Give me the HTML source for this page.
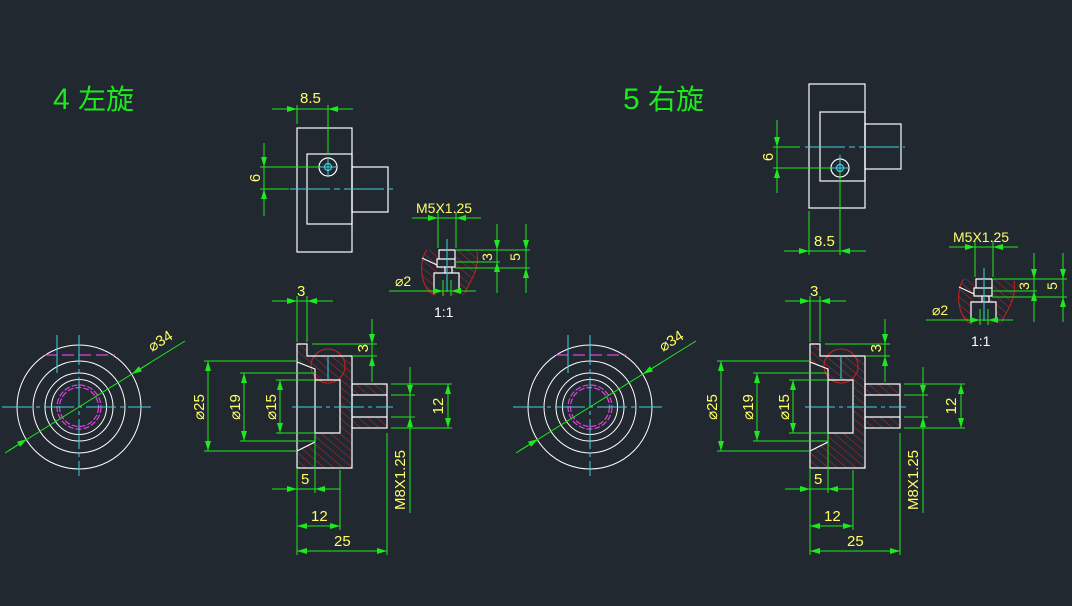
<!DOCTYPE html>
<html><head><meta charset="utf-8"><style>
html,body{margin:0;padding:0;background:#212830;}
svg{display:block}
text{font-family:"Liberation Sans","Noto Sans CJK SC",sans-serif;}
</style></head><body>
<svg width="1072" height="606" viewBox="0 0 1072 606" xmlns="http://www.w3.org/2000/svg">
<defs>
<marker id="a" markerUnits="userSpaceOnUse" markerWidth="10" markerHeight="6" refX="10" refY="3" orient="auto"><path d="M0,0L10,3L0,6z" fill="#1ee81e"/></marker>
<pattern id="h" patternUnits="userSpaceOnUse" width="6" height="6" patternTransform="rotate(-50)"><line x1="0" y1="0" x2="0" y2="6" stroke="#c02828" stroke-width="1"/></pattern>

<g id="circ">
 <g fill="none" stroke="#fff" stroke-width="1">
  <circle cx="79" cy="407" r="62"/><circle cx="79" cy="407" r="46"/><circle cx="79" cy="407" r="34"/><circle cx="79" cy="407" r="27.5"/>
 </g>
 <g fill="none" stroke="#e040e0" stroke-width="1.2" stroke-dasharray="6,2">
  <circle cx="79" cy="407" r="22"/><circle cx="79" cy="407" r="19.5"/>
 </g>
 <line x1="45" y1="355" x2="115" y2="355" stroke="#e040e0" stroke-width="1.2" stroke-dasharray="12,5"/>
 <g stroke="#3fd0e0" stroke-width="1" stroke-dasharray="30,4,4,4">
  <line x1="2" y1="407" x2="151" y2="407"/><line x1="79" y1="335" x2="79" y2="476"/>
 </g>
 <line x1="57" y1="335" x2="57" y2="373" stroke="#3fd0e0"/>
 <line x1="5" y1="453" x2="185" y2="341" stroke="#1ee81e"/>
 <line x1="8" y1="451" x2="27" y2="439" stroke="#1ee81e" marker-end="url(#a)"/>
 <line x1="150" y1="363" x2="132" y2="374" stroke="#1ee81e" marker-end="url(#a)"/>
 <text x="0" y="0" transform="translate(152,352) rotate(-32)" fill="#ffff66" font-size="15">⌀34</text>
</g>

<g id="sec">
 <path fill-rule="evenodd" fill="url(#h)" d="M297,344H307V356H352V468H297Z M297,362L315,369V380H340V433H315V442L297,451Z"/>
 <rect x="352" y="384" width="35" height="11" fill="url(#h)"/>
 <rect x="352" y="417" width="35" height="11" fill="url(#h)"/>
 <circle cx="328" cy="366" r="17" fill="none" stroke="#d02020"/>
 <g fill="none" stroke="#fff" stroke-width="1.2">
  <path d="M297,344H307V356H352V468H297Z"/>
  <path d="M297,362L315,369V442L297,451"/>
  <path d="M315,380H340V433H315"/>
  <rect x="352" y="384" width="35" height="44"/>
  <path d="M352,395H387M352,417H387"/>
 </g>
 <line x1="292" y1="407" x2="393" y2="407" stroke="#3fd0e0" stroke-dasharray="30,4,4,4"/>
 <line x1="328" y1="355" x2="328" y2="380" stroke="#3fd0e0"/>
 <g stroke="#1ee81e" fill="none" stroke-width="1">
  <path d="M272,301H333M297,296V342M307,296V342"/>
  <path d="M372,319V382M312,344H377M352,356H377"/>
  <path d="M208,361V451M204,361H297M204,451H297"/>
  <path d="M244,373V441M240,373H315M240,441H315"/>
  <path d="M280,380V433M276,380H315M276,433H315"/>
  <path d="M448,384V428M391,384H452M391,428H452"/>
  <path d="M410,367V513M391,395H415M391,417H415"/>
  <path d="M272,489H340M297,468V555M315,433V493M340,470V530"/>
  <path d="M297,526H340M297,551H387M387,433V555"/>
 </g>
 <g stroke="#1ee81e" marker-end="url(#a)">
  <line x1="282" y1="301" x2="297" y2="301"/><line x1="322" y1="301" x2="307" y2="301"/>
  <line x1="372" y1="325" x2="372" y2="344"/><line x1="372" y1="375" x2="372" y2="356"/>
  <line x1="208" y1="380" x2="208" y2="361"/><line x1="208" y1="432" x2="208" y2="451"/>
  <line x1="244" y1="390" x2="244" y2="373"/><line x1="244" y1="424" x2="244" y2="441"/>
  <line x1="280" y1="395" x2="280" y2="380"/><line x1="280" y1="418" x2="280" y2="433"/>
  <line x1="448" y1="400" x2="448" y2="384"/><line x1="448" y1="412" x2="448" y2="428"/>
  <line x1="410" y1="375" x2="410" y2="395"/><line x1="410" y1="437" x2="410" y2="417"/>
  <line x1="282" y1="489" x2="297" y2="489"/><line x1="330" y1="489" x2="315" y2="489"/>
  <line x1="312" y1="526" x2="297" y2="526"/><line x1="325" y1="526" x2="340" y2="526"/>
  <line x1="320" y1="551" x2="297" y2="551"/><line x1="364" y1="551" x2="387" y2="551"/>
 </g>
 <g fill="#ffff66" font-size="15">
  <text x="297" y="296">3</text>
  <text transform="translate(368,344) rotate(-90)" text-anchor="end" font-size="15">3</text>
  <text transform="translate(204,407) rotate(-90)" text-anchor="middle">⌀25</text>
  <text transform="translate(240,407) rotate(-90)" text-anchor="middle">⌀19</text>
  <text transform="translate(276,407) rotate(-90)" text-anchor="middle">⌀15</text>
  <text transform="translate(443,406) rotate(-90)" text-anchor="middle">12</text>
  <text transform="translate(405,480) rotate(-90)" text-anchor="middle">M8X1.25</text>
  <text x="301" y="484">5</text>
  <text x="311" y="521">12</text>
  <text x="334" y="546">25</text>
 </g>
</g>

<g id="det">
 <path d="M427,250C418,260 420,290 435,295L465,295C468,285 478,275 477,250Z" fill="url(#h)" stroke="none"/>
 <path d="M427,250C418,260 420,290 435,295M465,293C468,283 480,272 477,252" fill="none" stroke="#d02020"/>
 <path d="M434,273H459V292H434Z" fill="#212830"/>
 <path d="M438,250H455V267H438Z" fill="#212830"/>
 <g fill="none" stroke="#fff" stroke-width="1.2">
  <path d="M439,250H455V259H439Z M437,259H455V267H437Z M445,267V273M452,267V273 M434,292V273H459V292 M422,258L437,265"/>
 </g>
 <line x1="447" y1="239" x2="447" y2="292" stroke="#3fd0e0"/>
 <g stroke="#1ee81e" fill="none">
  <path d="M412,218H481M438,212V248M456,212V248"/>
  <path d="M497,224V293M526,224V293M455,250H530M455,262H500M455,268H530"/>
  <path d="M389,291H476M443,280V296M451,280V296"/>
 </g>
 <g stroke="#1ee81e" marker-end="url(#a)">
  <line x1="424" y1="218" x2="438" y2="218"/><line x1="470" y1="218" x2="456" y2="218"/>
  <line x1="497" y1="234" x2="497" y2="250"/><line x1="497" y1="280" x2="497" y2="262"/>
  <line x1="526" y1="234" x2="526" y2="250"/><line x1="526" y1="285" x2="526" y2="268"/>
  <line x1="430" y1="291" x2="443" y2="291"/><line x1="466" y1="291" x2="451" y2="291"/>
 </g>
 <g fill="#ffff66" font-size="14">
  <text x="416" y="213">M5X1.25</text>
  <text transform="translate(492,257) rotate(-90)" text-anchor="middle">3</text>
  <text transform="translate(520,257) rotate(-90)" text-anchor="middle">5</text>
  <text x="395" y="286">⌀2</text>
 </g>
 <text x="434" y="317" fill="#fff" font-size="14">1:1</text>
</g>
</defs>

<rect width="1072" height="606" fill="#212830"/>

<text x="53" y="109" fill="#1ee81e" font-size="30">4 <tspan font-size="28">左旋</tspan></text>
<text x="623" y="109" fill="#1ee81e" font-size="30">5 <tspan font-size="28">右旋</tspan></text>

<use href="#circ"/>
<use href="#circ" transform="translate(511,0)"/>
<use href="#sec"/>
<use href="#sec" transform="translate(513,0)"/>
<use href="#det"/>
<use href="#det" transform="translate(537,29)"/>

<!-- top view left -->
<g fill="none" stroke="#fff" stroke-width="1.2">
 <rect x="297" y="128" width="55" height="124"/>
 <rect x="307" y="154" width="45" height="70"/>
 <rect x="352" y="167" width="36" height="45"/>
 <circle cx="328" cy="167" r="9"/><circle cx="328" cy="167" r="3.5" stroke="#3fd0e0"/>
</g>
<line x1="290" y1="189" x2="393" y2="189" stroke="#3fd0e0" stroke-dasharray="40,4,6,4"/>
<path d="M318,167H338M328,157V177" stroke="#3fd0e0"/>
<g stroke="#1ee81e" fill="none">
 <path d="M272,109H353M297,105V124M328,105V153"/>
 <path d="M264,143V216M260,167H320M260,189H289"/>
</g>
<g stroke="#1ee81e" marker-end="url(#a)">
 <line x1="283" y1="109" x2="297" y2="109"/><line x1="342" y1="109" x2="328" y2="109"/>
 <line x1="264" y1="153" x2="264" y2="167"/><line x1="264" y1="203" x2="264" y2="189"/>
</g>
<text x="300" y="103" fill="#ffff66" font-size="15">8.5</text>
<text transform="translate(260,178) rotate(-90)" text-anchor="middle" fill="#ffff66" font-size="15">6</text>

<!-- top view right -->
<g fill="none" stroke="#fff" stroke-width="1.2">
 <rect x="809" y="84" width="56" height="124"/>
 <rect x="820" y="112" width="45" height="69"/>
 <rect x="865" y="124" width="36" height="45"/>
 <circle cx="840" cy="168" r="9"/><circle cx="840" cy="168" r="3.5" stroke="#3fd0e0"/>
</g>
<line x1="805" y1="147" x2="905" y2="147" stroke="#3fd0e0" stroke-dasharray="40,4,6,4"/>
<path d="M830,168H850M840,155V178" stroke="#3fd0e0"/>
<g stroke="#1ee81e" fill="none">
 <path d="M784,251H866M809,211V255M840,172V255"/>
 <path d="M777,120V193M773,147H800M773,168H832"/>
</g>
<g stroke="#1ee81e" marker-end="url(#a)">
 <line x1="795" y1="251" x2="809" y2="251"/><line x1="855" y1="251" x2="840" y2="251"/>
 <line x1="777" y1="133" x2="777" y2="147"/><line x1="777" y1="182" x2="777" y2="168"/>
</g>
<text x="814" y="246" fill="#ffff66" font-size="15">8.5</text>
<text transform="translate(773,157) rotate(-90)" text-anchor="middle" fill="#ffff66" font-size="15">6</text>
</svg>
</body></html>
